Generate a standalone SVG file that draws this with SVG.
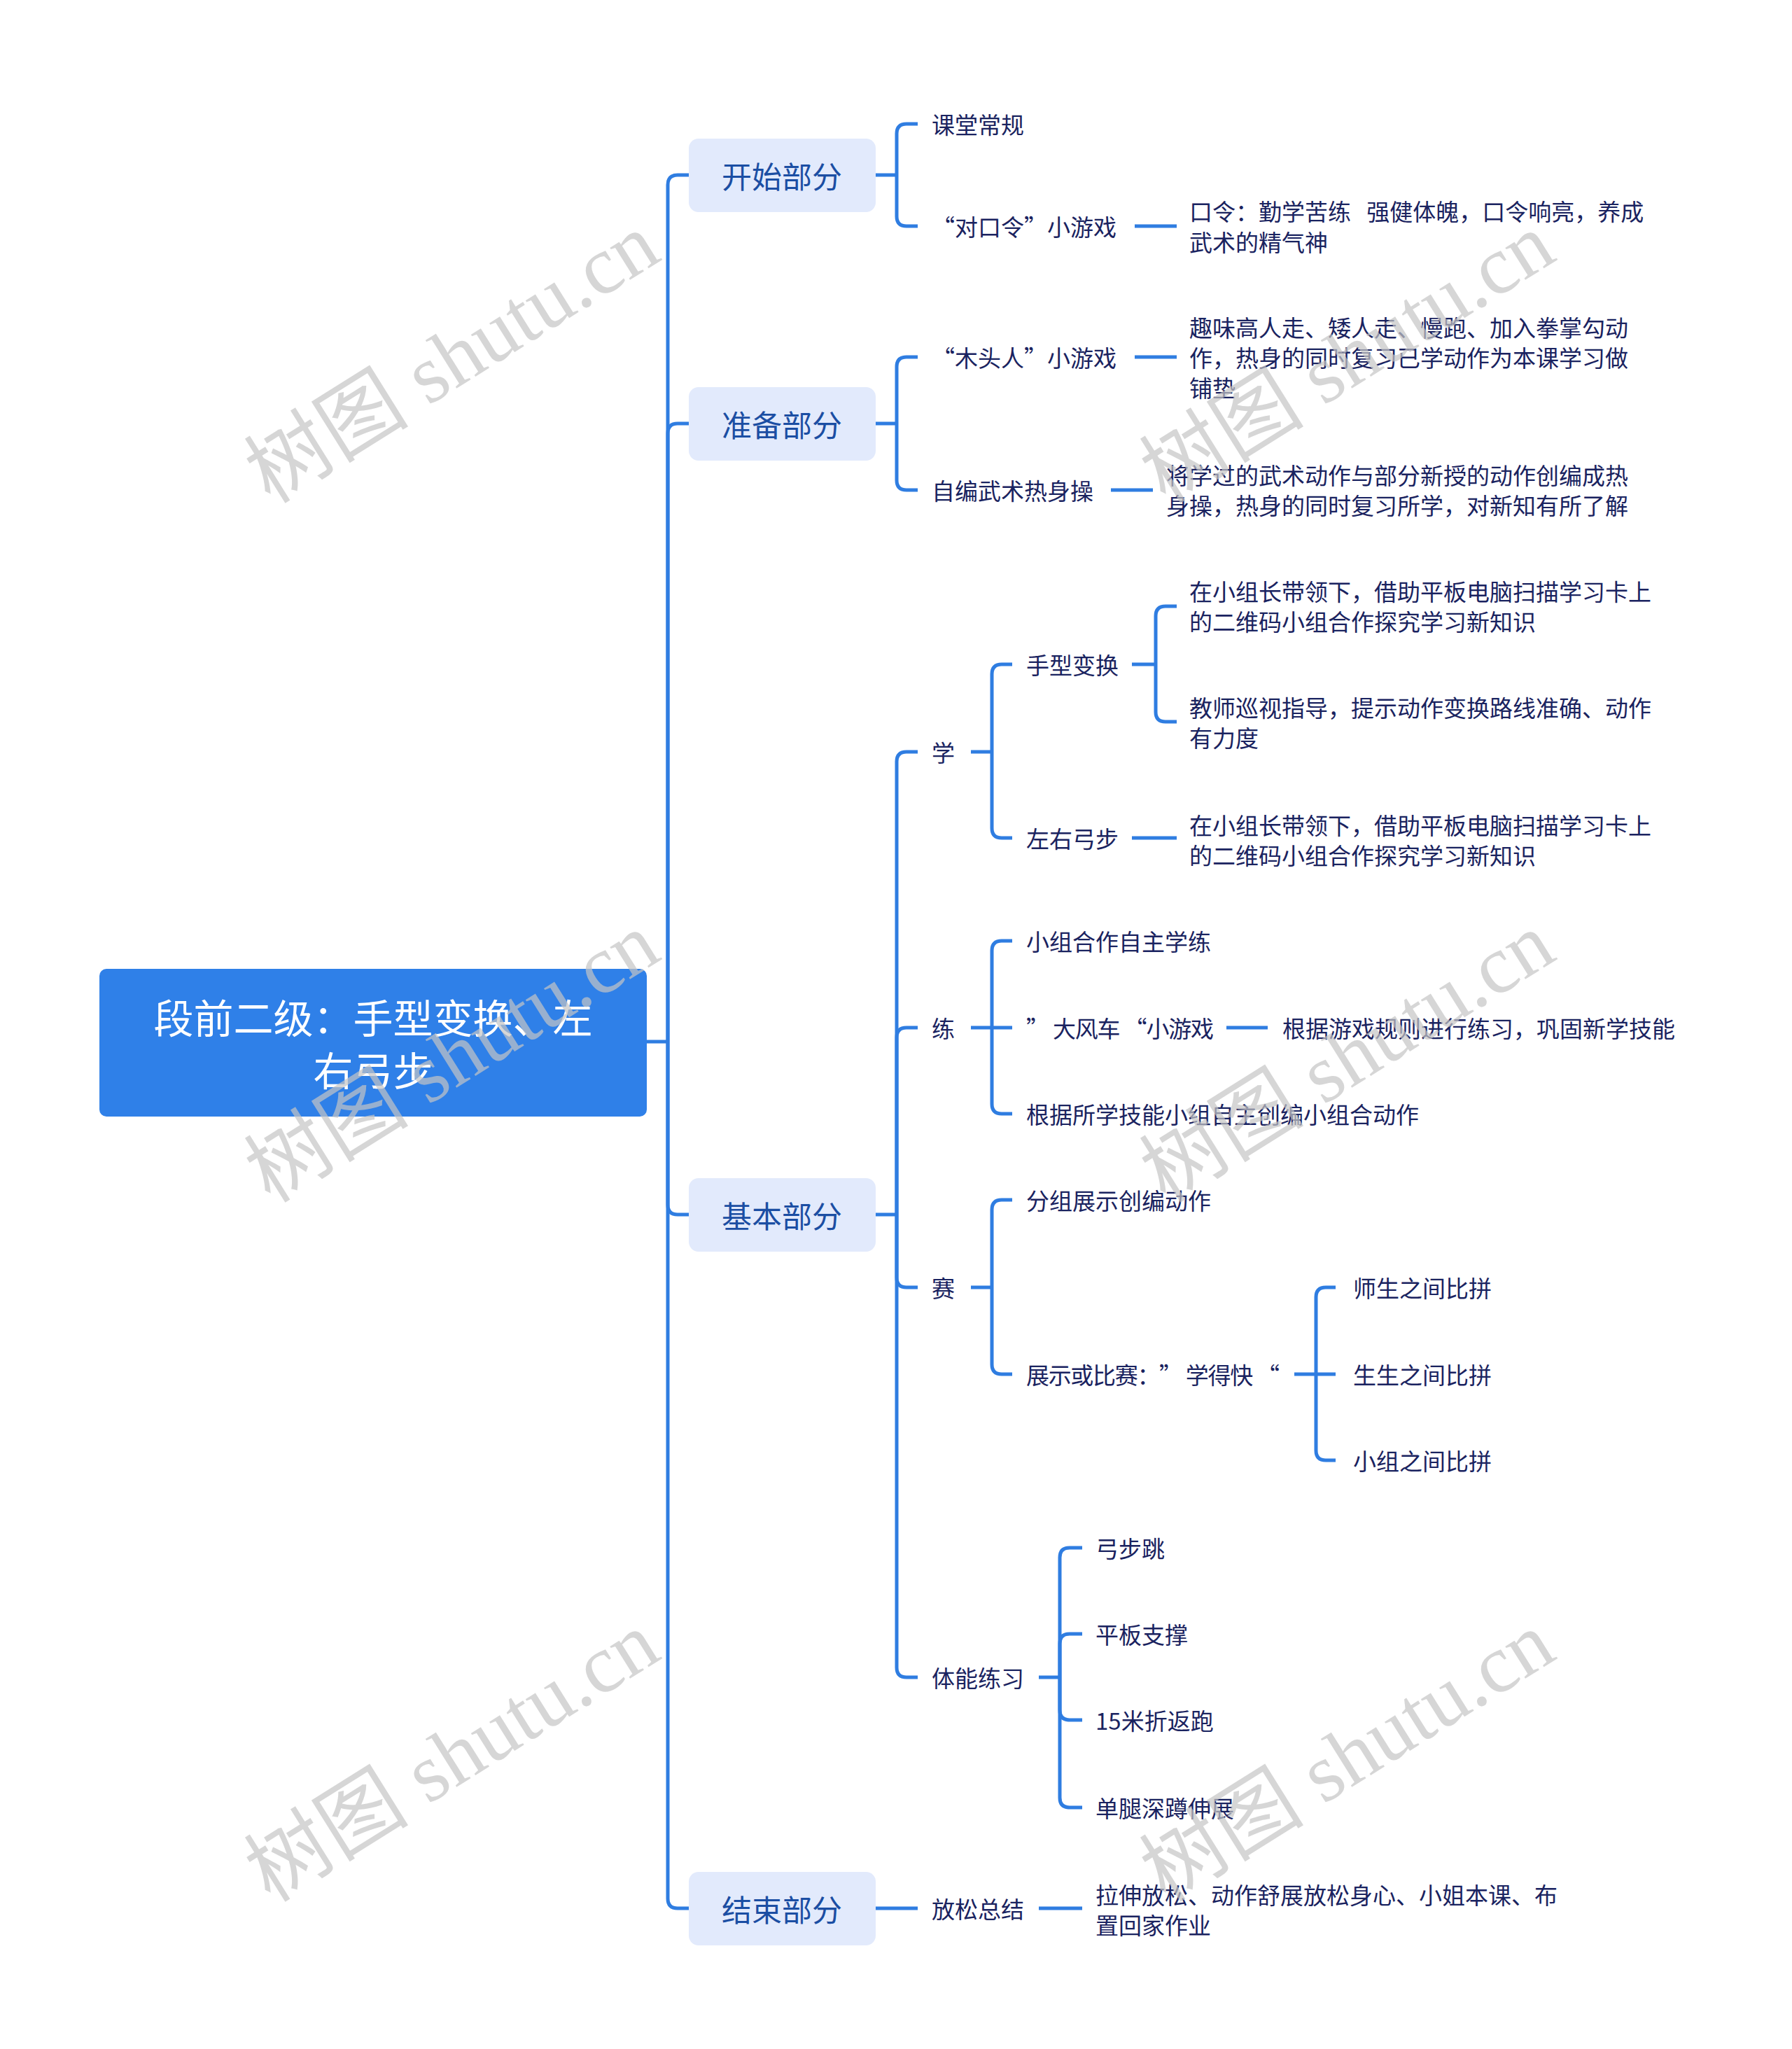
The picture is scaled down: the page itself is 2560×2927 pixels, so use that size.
<svg xmlns="http://www.w3.org/2000/svg" width="2560" height="2927" viewBox="0 0 2560 2927">
<style>
.bg{fill:#ffffff}
.root{fill:#2f80e8}
.roott{fill:#ffffff;font-family:"Noto Sans CJK SC","Noto Sans",sans-serif;font-size:57px;text-anchor:middle;dominant-baseline:central}
.l1{fill:#e2eafc}
.l1t{fill:#1b4ea3;font-family:"Noto Sans CJK SC","Noto Sans",sans-serif;font-size:43px;text-anchor:middle;dominant-baseline:central}
.t{fill:#1a2360;font-family:"Noto Sans CJK SC","Noto Sans",sans-serif;font-size:33px;dominant-baseline:central;text-spacing-trim:space-all}
.c{fill:none;stroke:#2f7de1;stroke-width:5;stroke-linecap:butt;stroke-linejoin:round}
.wm{fill:#c4c4c4;fill-opacity:0.7;font-family:"Liberation Serif","Noto Sans CJK SC",serif;font-size:118px;text-anchor:middle;dominant-baseline:central}
</style>
<rect class="bg" x="0" y="0" width="2560" height="2927"/>
<g id="connectors">
<path class="c" d="M924,1488 H954"/>
<path class="c" d="M954,1488 V264 Q954,250 968,250 H984"/>
<path class="c" d="M954,1488 V619 Q954,605 968,605 H984"/>
<path class="c" d="M954,1488 V1721 Q954,1735 968,1735 H984"/>
<path class="c" d="M954,1488 V2712 Q954,2726 968,2726 H984"/>
<path class="c" d="M1251,250 H1281"/>
<path class="c" d="M1281,250 V191 Q1281,177 1295,177 H1311"/>
<path class="c" d="M1281,250 V309 Q1281,323 1295,323 H1311"/>
<path class="c" d="M1621,323 H1681"/>
<path class="c" d="M1251,605 H1281"/>
<path class="c" d="M1281,605 V524 Q1281,510 1295,510 H1311"/>
<path class="c" d="M1281,605 V686 Q1281,700 1295,700 H1311"/>
<path class="c" d="M1621,510 H1681"/>
<path class="c" d="M1587,700 H1647"/>
<path class="c" d="M1251,1735 H1281"/>
<path class="c" d="M1281,1735 V1088 Q1281,1074 1295,1074 H1311"/>
<path class="c" d="M1281,1735 V1482 Q1281,1468 1295,1468 H1311"/>
<path class="c" d="M1281,1735 V1825 Q1281,1839 1295,1839 H1311"/>
<path class="c" d="M1281,1735 V2382 Q1281,2396 1295,2396 H1311"/>
<path class="c" d="M1387,1074 H1417"/>
<path class="c" d="M1417,1074 V963 Q1417,949 1431,949 H1446"/>
<path class="c" d="M1417,1074 V1183 Q1417,1197 1431,1197 H1446"/>
<path class="c" d="M1617,949 H1651"/>
<path class="c" d="M1651,949 V880 Q1651,866 1665,866 H1681"/>
<path class="c" d="M1651,949 V1017 Q1651,1031 1665,1031 H1681"/>
<path class="c" d="M1617,1197 H1681"/>
<path class="c" d="M1387,1468 H1446"/>
<path class="c" d="M1417,1468 V1358 Q1417,1344 1431,1344 H1446"/>
<path class="c" d="M1417,1468 V1577 Q1417,1591 1431,1591 H1446"/>
<path class="c" d="M1752,1468 H1811"/>
<path class="c" d="M1387,1839 H1417"/>
<path class="c" d="M1417,1839 V1728 Q1417,1714 1431,1714 H1446"/>
<path class="c" d="M1417,1839 V1949 Q1417,1963 1431,1963 H1446"/>
<path class="c" d="M1849,1963 H1908"/>
<path class="c" d="M1880,1963 V1853 Q1880,1839 1894,1839 H1908"/>
<path class="c" d="M1880,1963 V2072 Q1880,2086 1894,2086 H1908"/>
<path class="c" d="M1484,2396 H1514"/>
<path class="c" d="M1514,2396 V2225 Q1514,2211 1528,2211 H1546"/>
<path class="c" d="M1514,2396 V2348 Q1514,2334 1528,2334 H1546"/>
<path class="c" d="M1514,2396 V2443 Q1514,2457 1528,2457 H1546"/>
<path class="c" d="M1514,2396 V2568 Q1514,2582 1528,2582 H1546"/>
<path class="c" d="M1251,2726 H1311"/>
<path class="c" d="M1484,2726 H1546"/>
</g>
<g id="root">
<rect class="root" x="142" y="1384" width="782" height="211" rx="10"/>
<text class="roott" x="533" y="1451">段前二级：手型变换、左</text>
<text class="roott" x="533" y="1526">右弓步</text>
</g>
<g id="n-kaishi"><rect class="l1" x="984" y="198" width="267" height="105" rx="14"/><text class="l1t" x="1117" y="250">开始部分</text></g>
<g id="n-zhunbei"><rect class="l1" x="984" y="553" width="267" height="105" rx="14"/><text class="l1t" x="1117" y="605">准备部分</text></g>
<g id="n-jiben"><rect class="l1" x="984" y="1683" width="267" height="105" rx="14"/><text class="l1t" x="1117" y="1735">基本部分</text></g>
<g id="n-jieshu"><rect class="l1" x="984" y="2674" width="267" height="105" rx="14"/><text class="l1t" x="1117" y="2726">结束部分</text></g>

<g id="n-ketang"><text class="t" x="1331" y="177">课堂常规</text></g>
<g id="n-duikouling"><text class="t" x="1331" y="323">“对口令”小游戏</text></g>
<g id="n-kouling"><text class="t" x="1699" y="301">口令：勤学苦练&#160;&#160; 强健体魄，口令响亮，养成</text><text class="t" x="1699" y="345">武术的精气神</text></g>
<g id="n-mutouren"><text class="t" x="1331" y="510">“木头人”小游戏</text></g>
<g id="n-quwei"><text class="t" x="1699" y="467">趣味高人走、矮人走、慢跑、加入拳掌勾动</text><text class="t" x="1699" y="510">作，热身的同时复习已学动作为本课学习做</text><text class="t" x="1699" y="553">铺垫</text></g>
<g id="n-zibian"><text class="t" x="1331" y="700">自编武术热身操</text></g>
<g id="n-jiang"><text class="t" x="1666" y="678">将学过的武术动作与部分新授的动作创编成热</text><text class="t" x="1666" y="721">身操，热身的同时复习所学，对新知有所了解</text></g>

<g id="n-xue"><text class="t" x="1331" y="1074">学</text></g>
<g id="n-shouxing"><text class="t" x="1466" y="949">手型变换</text></g>
<g id="n-sx1"><text class="t" x="1699" y="844">在小组长带领下，借助平板电脑扫描学习卡上</text><text class="t" x="1699" y="887">的二维码小组合作探究学习新知识</text></g>
<g id="n-sx2"><text class="t" x="1699" y="1010">教师巡视指导，提示动作变换路线准确、动作</text><text class="t" x="1699" y="1053">有力度</text></g>
<g id="n-zuoyou"><text class="t" x="1466" y="1197">左右弓步</text></g>
<g id="n-zy1"><text class="t" x="1699" y="1178">在小组长带领下，借助平板电脑扫描学习卡上</text><text class="t" x="1699" y="1221">的二维码小组合作探究学习新知识</text></g>

<g id="n-lian"><text class="t" x="1331" y="1468">练</text></g>
<g id="n-lian1"><text class="t" x="1466" y="1344">小组合作自主学练</text></g>
<g id="n-dafengche"><text class="t" x="1466" y="1468" textLength="268" lengthAdjust="spacing">” 大风车 “小游戏</text></g>
<g id="n-genju"><text class="t" x="1832" y="1468">根据游戏规则进行练习，巩固新学技能</text></g>
<g id="n-lian3"><text class="t" x="1466" y="1591">根据所学技能小组自主创编小组合动作</text></g>

<g id="n-sai"><text class="t" x="1331" y="1839">赛</text></g>
<g id="n-fenzu"><text class="t" x="1466" y="1714">分组展示创编动作</text></g>
<g id="n-zhanshi"><text class="t" x="1466" y="1963" textLength="362" lengthAdjust="spacing">展示或比赛：” 学得快 “</text></g>
<g id="n-shisheng"><text class="t" x="1933" y="1839">师生之间比拼</text></g>
<g id="n-shengsheng"><text class="t" x="1933" y="1963">生生之间比拼</text></g>
<g id="n-xiaozu"><text class="t" x="1933" y="2086">小组之间比拼</text></g>

<g id="n-tineng"><text class="t" x="1331" y="2396">体能练习</text></g>
<g id="n-gongbu"><text class="t" x="1565" y="2211">弓步跳</text></g>
<g id="n-pingban"><text class="t" x="1565" y="2334">平板支撑</text></g>
<g id="n-zhefan"><text class="t" x="1565" y="2457">15米折返跑</text></g>
<g id="n-dantui"><text class="t" x="1565" y="2582">单腿深蹲伸展</text></g>

<g id="n-fangsong"><text class="t" x="1331" y="2726">放松总结</text></g>
<g id="n-lashen"><text class="t" x="1565" y="2706">拉伸放松、动作舒展放松身心、小姐本课、布</text><text class="t" x="1565" y="2749">置回家作业</text></g>

<g id="watermarks">
<text class="wm" transform="translate(646,512) rotate(-32)">树图 shutu.cn</text>
<text class="wm" transform="translate(1925,512) rotate(-32)">树图 shutu.cn</text>
<text class="wm" transform="translate(646,1511) rotate(-32)">树图 shutu.cn</text>
<text class="wm" transform="translate(1925,1511) rotate(-32)">树图 shutu.cn</text>
<text class="wm" transform="translate(646,2510) rotate(-32)">树图 shutu.cn</text>
<text class="wm" transform="translate(1925,2510) rotate(-32)">树图 shutu.cn</text>
</g>
</svg>
